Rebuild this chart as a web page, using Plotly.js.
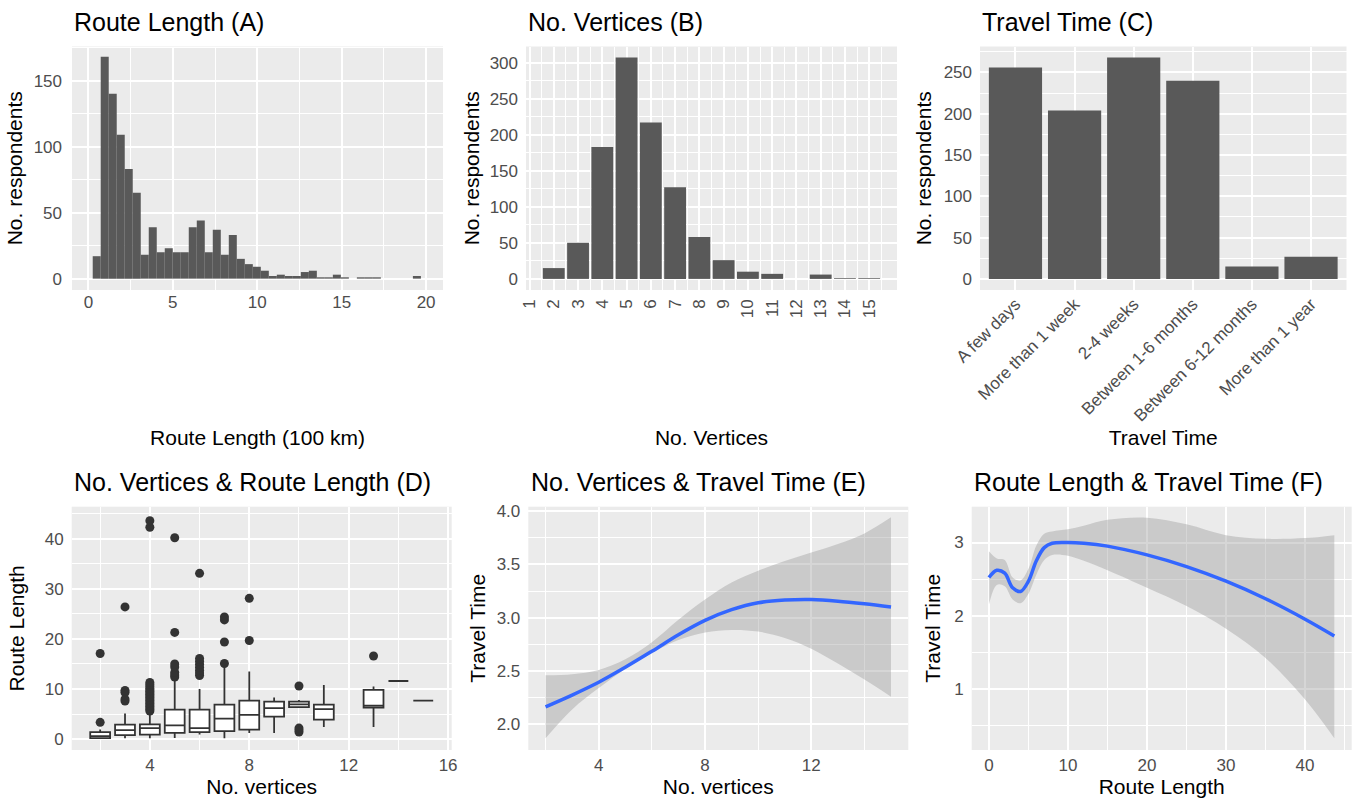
<!DOCTYPE html>
<html><head><meta charset="utf-8">
<script src="https://cdn.plot.ly/plotly-3.0.1.min.js"></script>
<style>html,body{margin:0;padding:0;background:#fff}#chart{width:1356px;height:804px}</style>
</head><body><div id="chart"></div><script>
// ---------------- DATA ----------------
// (A) Route length histogram, counts per bin (bins of ~0.474 x 100 km)
const routeLengthCounts = [17,168,140,109,83,65,18,39,20,23,20,20,39,44,20,37,18,33,15,11,9,6,2,3,2,2,5,6,1,1,3,1,0,1,1,1,0,0,0,0,2];
const routeBinFirstCenter = 0.494;
const routeBinWidth = 0.474;

// (B) Number of vertices
const vertexTickLabels = [1,2,3,4,5,6,7,8,9,10,11,12,13,14,15];
const vertexValues = [2,3,4,5,6,7,8,9,10,11,12,13,14,15];
const vertexCounts = [15,50,183,307,217,127,58,26,10,7,0,6,1,1];

// (C) Travel time
const travelCategories = ['A few days','More than 1 week','2-4 weeks','Between 1-6 months','Between 6-12 months','More than 1 year'];
const travelCounts = [256,204,268,240,15,27];

// (D) No. vertices vs route length boxplots
const boxVertices = [2,3,4,5,6,7,8,9,10,11,13,14,15];
const boxQ1      = [0.2,0.8,0.9,1.25,1.4,1.6,1.9,4.5,6.4,3.9,6.3,11.6,7.7];
const boxMedian  = [0.6,1.8,2.2,2.75,2.2,4.1,4.85,6.2,6.95,6.0,6.7,11.6,7.7];
const boxQ3      = [1.4,2.9,2.95,5.9,5.9,6.9,7.7,7.5,7.5,6.9,9.85,11.6,7.7];
const boxLower   = [0.05,0.2,0.2,0.25,0.9,0.2,1.2,1.2,6.3,2.4,2.4,11.6,7.7];
const boxUpper   = [1.9,5.1,5.2,12.1,10.0,14.4,13.5,8.3,7.8,10.8,10.5,11.6,7.7];
const outlierVertices    = [2,2, 3,3,3,3,3, 4,4,4,4,4,4,4,4,4,4,4,4,4,4,4,4,4,4,4,4,4, 5,5,5,5,5,5,5, 6,6,6,6,6,6,6,6, 7,7,7,7, 8,8, 10,10,10,10, 13];
const outlierRouteLength = [3.35,17.1, 7.6,8.0,9.3,9.7,26.4, 5.6,5.9,6.2,6.5,6.8,7.1,7.4,7.7,8.0,8.3,8.6,8.9,9.2,9.5,9.8,10.1,10.5,10.9,11.3,42.3,43.6, 12.4,12.8,13.3,14.4,15.0,21.3,40.2, 12.7,13.2,13.7,14.3,14.9,15.5,16.1,33.1, 15.1,19.4,23.8,24.4, 19.7,28.1, 1.4,1.8,2.2,10.6, 16.6];

// (E) Smooth: No. vertices vs travel time
const smoothVertX  = [2,3,4,5,6,7,8,9,10,11,12,13,14,15];
const smoothVertY  = [2.165,2.275,2.395,2.535,2.685,2.84,2.975,3.075,3.14,3.165,3.17,3.155,3.13,3.10];
const smoothVertLo = [1.87,2.14,2.34,2.52,2.67,2.79,2.86,2.885,2.87,2.81,2.71,2.57,2.42,2.26];
const smoothVertHi = [2.46,2.47,2.51,2.61,2.77,2.98,3.17,3.33,3.44,3.53,3.61,3.69,3.79,3.94];

// (F) Smooth: route length vs travel time
const smoothRouteX  = [0,1,2,3,4,5,6,7,8,10,12,15,20,25,30,35,40,43.7];
const smoothRouteY  = [2.52,2.62,2.58,2.38,2.33,2.47,2.75,2.93,2.99,3.0,2.99,2.95,2.83,2.67,2.47,2.23,1.95,1.72];
const smoothRouteLo = [2.15,2.42,2.40,2.22,2.17,2.30,2.56,2.76,2.83,2.82,2.75,2.62,2.38,2.13,1.82,1.42,0.85,0.32];
const smoothRouteHi = [2.88,2.78,2.76,2.52,2.48,2.64,2.96,3.12,3.15,3.18,3.23,3.31,3.34,3.25,3.10,3.05,3.06,3.10];

// ---------------- STYLE ----------------
const FONT = 'Liberation Sans, Arial, Helvetica, sans-serif';
const BAR = '#595959';
const DARK = '#333333';
const W = 1356, H = 804;
const px = v => v / W;
const py = v => 1 - v / H;

function axis(domain, anchor, titleText, standoff, extra) {
  return Object.assign({
    domain: domain, anchor: anchor,
    showgrid: true, gridcolor: '#ffffff', gridwidth: 2,
    zeroline: false, showline: false, ticks: '',
    tickfont: {family: FONT, size: 17, color: '#4d4d4d'},
    automargin: false, fixedrange: true,
    title: {text: titleText, standoff: standoff, font: {family: FONT, size: 21, color: '#000000'}}
  }, extra || {});
}
function minor(tick0, dtick) {
  return {tickmode: 'linear', tick0: tick0, dtick: dtick, showgrid: true, gridcolor: '#ffffff', gridwidth: 1, ticks: ''};
}

const topY = [py(290), py(46.5)];
const botY = [py(750), py(506.7)];

const traces = [
  // A
  {type: 'bar', x0: routeBinFirstCenter, dx: routeBinWidth, y: routeLengthCounts, width: routeBinWidth,
   marker: {color: BAR, line: {width: 0}}, xaxis: 'x', yaxis: 'y', hoverinfo: 'skip'},
  // B
  {type: 'bar', x: vertexValues, y: vertexCounts, width: 0.9,
   marker: {color: BAR, line: {width: 0}}, xaxis: 'x2', yaxis: 'y2', hoverinfo: 'skip'},
  // C
  {type: 'bar', x: travelCategories, y: travelCounts, width: 0.9,
   marker: {color: BAR, line: {width: 0}}, xaxis: 'x3', yaxis: 'y3', hoverinfo: 'skip'},
  // D boxes
  {type: 'box', x: boxVertices, q1: boxQ1, median: boxMedian, q3: boxQ3,
   lowerfence: boxLower, upperfence: boxUpper, width: 0.8, whiskerwidth: 0, boxpoints: false,
   fillcolor: '#ffffff', line: {color: DARK, width: 1.8}, xaxis: 'x4', yaxis: 'y4', hoverinfo: 'skip'},
  {type: 'scatter', mode: 'markers', x: outlierVertices, y: outlierRouteLength,
   marker: {color: DARK, size: 9}, xaxis: 'x4', yaxis: 'y4', hoverinfo: 'skip'},
  // E
  {type: 'scatter', mode: 'lines', x: smoothVertX, y: smoothVertLo, line: {width: 0, shape: 'spline'},
   xaxis: 'x5', yaxis: 'y5', hoverinfo: 'skip'},
  {type: 'scatter', mode: 'lines', x: smoothVertX, y: smoothVertHi, line: {width: 0, shape: 'spline'},
   fill: 'tonexty', fillcolor: 'rgba(153,153,153,0.4)', xaxis: 'x5', yaxis: 'y5', hoverinfo: 'skip'},
  {type: 'scatter', mode: 'lines', x: smoothVertX, y: smoothVertY, line: {width: 3.5, color: '#3366FF', shape: 'spline'},
   xaxis: 'x5', yaxis: 'y5', hoverinfo: 'skip'},
  // F
  {type: 'scatter', mode: 'lines', x: smoothRouteX, y: smoothRouteLo, line: {width: 0, shape: 'spline'},
   xaxis: 'x6', yaxis: 'y6', hoverinfo: 'skip'},
  {type: 'scatter', mode: 'lines', x: smoothRouteX, y: smoothRouteHi, line: {width: 0, shape: 'spline'},
   fill: 'tonexty', fillcolor: 'rgba(153,153,153,0.4)', xaxis: 'x6', yaxis: 'y6', hoverinfo: 'skip'},
  {type: 'scatter', mode: 'lines', x: smoothRouteX, y: smoothRouteY, line: {width: 3.5, color: '#3366FF', shape: 'spline'},
   xaxis: 'x6', yaxis: 'y6', hoverinfo: 'skip'}
];

const titles = [
  ['Route Length (A)', 72, 22],
  ['No. Vertices (B)', 526, 22],
  ['Travel Time (C)', 980, 22],
  ['No. Vertices & Route Length (D)', 72, 482],
  ['No. Vertices & Travel Time (E)', 529, 482],
  ['Route Length & Travel Time (F)', 972, 482]
];

const layout = {
  width: W, height: H,
  margin: {l: 0, r: 0, t: 0, b: 0},
  paper_bgcolor: '#ffffff', plot_bgcolor: '#EBEBEB',
  showlegend: false, hovermode: false,
  font: {family: FONT, color: '#000000'},
  // A
  xaxis: axis([px(72), px(443)], 'y', 'Route Length (100 km)', 119,
    {range: [-0.97, 21.0], tickmode: 'linear', tick0: 0, dtick: 5, minor: minor(2.5, 5)}),
  yaxis: axis(topY, 'x', 'No. respondents', 5,
    {range: [-8.6, 175.8], tickmode: 'linear', tick0: 0, dtick: 50, minor: minor(25, 50), ticklabelstandoff: 9}),
  // B
  xaxis2: axis([px(526), px(897)], 'y2', 'No. Vertices', 112,
    {range: [0.855, 16.145], tickmode: 'array', tickvals: vertexTickLabels, ticktext: vertexTickLabels.map(String),
     tickangle: -90, minor: minor(0.5, 1), ticklabelstandoff: 5}),
  yaxis2: axis(topY, 'x2', 'No. respondents', 4,
    {range: [-15.4, 322.4], tickmode: 'linear', tick0: 0, dtick: 50, minor: minor(25, 50), ticklabelstandoff: 7}),
  // C
  xaxis3: axis([px(980), px(1346.5)], 'y3', 'Travel Time', 6,
    {type: 'category', categoryorder: 'array', categoryarray: travelCategories, range: [-0.6, 5.6], tickangle: -45}),
  yaxis3: axis(topY, 'x3', 'No. respondents', 6,
    {range: [-13.4, 281.4], tickmode: 'linear', tick0: 0, dtick: 50, minor: minor(25, 50), ticklabelstandoff: 7}),
  // D
  xaxis4: axis([px(71.7), px(451.7)], 'y4', 'No. vertices', 3,
    {range: [0.855, 16.145], tickmode: 'linear', tick0: 4, dtick: 4, minor: minor(2, 4), ticklabelstandoff: 3}),
  yaxis4: axis(botY, 'x4', 'Route Length', 14,
    {range: [-2.17, 46.4], tickmode: 'linear', tick0: 0, dtick: 10, minor: minor(5, 10), ticklabelstandoff: 7}),
  // E
  xaxis5: axis([px(528.3), px(908.3)], 'y5', 'No. vertices', 3,
    {range: [1.35, 15.65], tickmode: 'linear', tick0: 4, dtick: 4, minor: minor(2, 4), ticklabelstandoff: 3}),
  yaxis5: axis(botY, 'x5', 'Travel Time', 5,
    {range: [1.76, 4.04], tickmode: 'linear', tick0: 2, dtick: 0.5, tickformat: '.1f', minor: minor(2.25, 0.5), ticklabelstandoff: 7}),
  // F
  xaxis6: axis([px(971.7), px(1351.7)], 'y6', 'Route Length', 3,
    {range: [-2.18, 45.9], tickmode: 'linear', tick0: 0, dtick: 10, minor: minor(5, 10), ticklabelstandoff: 3}),
  yaxis6: axis(botY, 'x6', 'Travel Time', 7,
    {range: [0.16, 3.49], tickmode: 'linear', tick0: 1, dtick: 1, minor: minor(0.5, 1), ticklabelstandoff: 7}),
  annotations: titles.map(t => ({
    text: t[0], xref: 'paper', yref: 'paper', x: px(t[1]), y: py(t[2]),
    xanchor: 'left', yanchor: 'middle', showarrow: false,
    font: {family: FONT, size: 25, color: '#000000'}
  }))
};

Plotly.newPlot('chart', traces, layout, {displayModeBar: false, staticPlot: true});
</script></body></html>
